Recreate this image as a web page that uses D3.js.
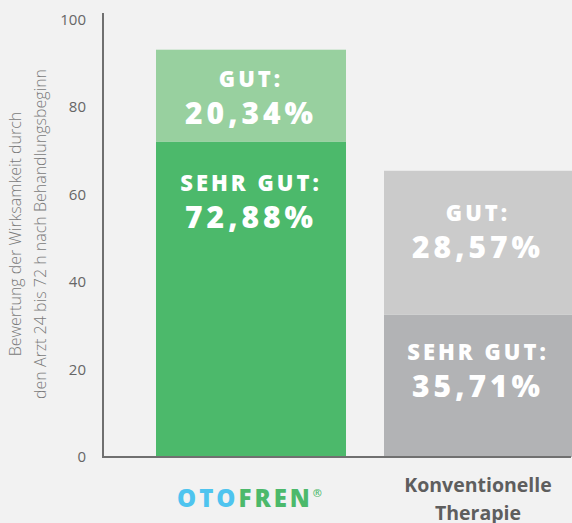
<!DOCTYPE html>
<html>
<head>
<meta charset="utf-8">
<script src="https://cdn.jsdelivr.net/npm/d3@7"></script>
<style>
  html, body { margin: 0; padding: 0; background: #f2f2f2; }
  svg { display: block; }
</style>
</head>
<body>
<div id="viz"></div>
<script>
'use strict';

// categories (x axis)
const categories = ['otofren', 'konventionell'];
// segment tops as drawn in the picture (sehr gut, gut stacked)
const sehrGutValues = [72.2, 32.6];
const gutValues = [21.0, 32.9];
// labels printed in the bars
const sehrGutLabels = ['72,88%', '35,71%'];
const gutLabels = ['20,34%', '28,57%'];
const yTicks = [0, 20, 40, 60, 80, 100];

const W = 572, H = 523;

const svg = d3.select('#viz')
  .append('svg')
    .attr('width', W)
    .attr('height', H);

svg.append('rect')
  .attr('width', W)
  .attr('height', H)
  .attr('fill', '#f2f2f2');

const y = d3.scaleLinear()
  .domain([0, 100])
  .range([457, 20]);

const x = d3.scaleBand()
  .domain(categories)
  .range([137, 593])
  .paddingInner(1 / 6)
  .paddingOuter(1 / 12);

const colors = {
  otofren: {sehr: '#4cb96b', gut: '#98d09f'},
  konventionell: {sehr: '#b2b3b5', gut: '#cbcbcb'}
};

// bars
categories.forEach((c, i) => {
  const sehr = sehrGutValues[i];
  const total = sehr + gutValues[i];
  svg.append('rect')
    .attr('x', x(c))
    .attr('width', x.bandwidth())
    .attr('y', y(sehr))
    .attr('height', y(0) - y(sehr))
    .attr('fill', colors[c].sehr);
  svg.append('rect')
    .attr('x', x(c))
    .attr('width', x.bandwidth())
    .attr('y', y(total))
    .attr('height', y(sehr) - y(total))
    .attr('fill', colors[c].gut);
});

// in-bar labels
const labelFont = '"Open Sans", sans-serif';
const visibleCenter = (c) => (x(c) + Math.min(x(c) + x.bandwidth(), W)) / 2;
const gutOffset = [-9, -22];
const sehrOffset = [50, 45];

categories.forEach((c, i) => {
  const cx = visibleCenter(c);
  const sehr = sehrGutValues[i];
  const total = sehr + gutValues[i];
  const gutMid = (y(total) + y(sehr)) / 2;

  const block = (yTitle, title, value) => {
    svg.append('text')
      .attr('x', cx)
      .attr('y', yTitle)
      .attr('text-anchor', 'middle')
      .attr('fill', '#fff')
      .style('font-family', labelFont)
      .style('font-weight', 800)
      .style('font-size', '22px')
      .style('letter-spacing', '3px')
      .text(title);
    svg.append('text')
      .attr('x', cx)
      .attr('y', yTitle + 37)
      .attr('text-anchor', 'middle')
      .attr('fill', '#fff')
      .style('font-family', labelFont)
      .style('font-weight', 800)
      .style('font-size', '30px')
      .style('letter-spacing', '4px')
      .text(value);
  };

  block(gutMid + gutOffset[i], 'GUT:', gutLabels[i]);
  block(y(sehr) + sehrOffset[i], 'SEHR GUT:', sehrGutLabels[i]);
});

// axes lines
const axisColor = '#707070';
svg.append('line')
  .attr('x1', 103).attr('x2', 103)
  .attr('y1', 13).attr('y2', y(0))
  .attr('stroke', axisColor)
  .attr('stroke-width', 2);
svg.append('line')
  .attr('x1', 102).attr('x2', 571)
  .attr('y1', y(0)).attr('y2', y(0))
  .attr('stroke', axisColor)
  .attr('stroke-width', 2);

svg.selectAll('.ytick')
  .data(yTicks)
  .enter()
  .append('text')
    .attr('class', 'ytick')
    .attr('x', 86)
    .attr('y', d => y(d) + 5)
    .attr('text-anchor', 'end')
    .attr('fill', '#666')
    .style('font-family', '"Open Sans", sans-serif')
    .style('font-size', '15px')
    .text(d => d);

// y axis title
const yTitle = svg.append('text')
  .attr('transform', 'translate(0,234) rotate(-90)')
  .attr('text-anchor', 'middle')
  .attr('fill', '#7a7a7a')
  .style('font-family', '"Open Sans", sans-serif')
  .style('font-weight', 300)
  .style('font-size', '16px');
yTitle.append('tspan').attr('x', 0).attr('y', 21).text('Bewertung der Wirksamkeit durch');
yTitle.append('tspan').attr('x', 0).attr('y', 46).text('den Arzt 24 bis 72 h nach Behandlungsbeginn');

// x labels
const logo = svg.append('text')
  .attr('x', x('otofren') + x.bandwidth() / 2)
  .attr('y', 507)
  .attr('text-anchor', 'middle')
  .style('font-family', '"Open Sans", sans-serif')
  .style('font-weight', 800)
  .style('font-size', '24px')
  .style('letter-spacing', '3px');
logo.append('tspan').attr('fill', '#4ec4ef').text('OTO');
logo.append('tspan').attr('fill', '#4cb96b').text('FREN');
logo.append('tspan').attr('fill', '#4cb96b').attr('dy', -10).style('font-size', '11px').style('font-weight', 600).text('®');

const konvX = visibleCenter('konventionell');
const konv = svg.append('text')
  .attr('text-anchor', 'middle')
  .attr('fill', '#5e5e5e')
  .style('font-family', '"Open Sans", sans-serif')
  .style('font-weight', 700)
  .style('font-size', '19.5px');
konv.append('tspan').attr('x', konvX).attr('y', 492).text('Konventionelle');
konv.append('tspan').attr('x', konvX).attr('y', 520).text('Therapie');
</script>
</body>
</html>
